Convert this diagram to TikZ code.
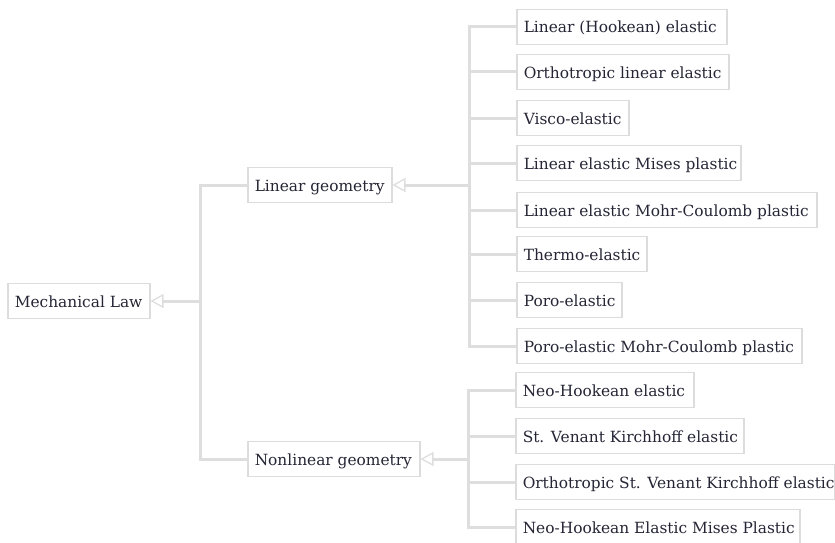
\documentclass[tikz,border=0pt]{standalone}
\usepackage{fontspec}
\setmainfont{DejaVu Serif}
\usetikzlibrary{arrows.meta}
\definecolor{linec}{HTML}{DEDEDE}
\definecolor{boxc}{HTML}{DCDCDC}
\definecolor{txt}{HTML}{252535}
\tikzset{
  box/.style={draw=boxc, line width=1.5pt, anchor=west, minimum height=35pt,
    inner xsep=7pt, inner ysep=0pt, text height=14pt, text depth=2pt,
    text=txt, font=\fontsize{15.4}{18}\selectfont},
  conn/.style={draw=linec, line width=3pt},
  opentip/.style={{Triangle[open,length=13pt,width=14pt,line width=1.3pt]}-},
}
\newcommand{\tb}[2]{\hbox to #1pt{#2\hss}}
\begin{document}
\begin{tikzpicture}[x=1pt,y=-1pt]
\useasboundingbox (0,0) rectangle (835,543);
% nodes
\node[box] (ml) at (7,301) {\tb{128}{Mechanical Law}};
\node[box] (lg) at (247,185) {\tb{130}{Linear geometry}};
\node[box] (ng) at (247,459) {\tb{158}{Nonlinear geometry}};
\node[box] (l1) at (516,27) {\tb{196}{Linear (Hookean) elastic}};
\node[box] (l2) at (516,72) {\tb{198}{Orthotropic linear elastic}};
\node[box] (l3) at (516,118) {\tb{98}{Visco-elastic}};
\node[box] (l4) at (516,163) {\tb{210}{Linear elastic Mises plastic}};
\node[box] (l5) at (516,210) {\tb{286}{Linear elastic Mohr-Coulomb plastic}};
\node[box] (l6) at (516,254) {\tb{116}{Thermo-elastic}};
\node[box] (l7) at (516,300) {\tb{91}{Poro-elastic}};
\node[box] (l8) at (516,346) {\tb{271}{Poro-elastic Mohr-Coulomb plastic}};
\node[box] (n1) at (515,390) {\tb{164}{Neo-Hookean elastic}};
\node[box] (n2) at (515,436) {\tb{214}{St. Venant Kirchhoff elastic}};
\node[box] (n3) at (515,482) {\tb{305}{Orthotropic St. Venant Kirchhoff elastic}};
\node[box] (n4) at (515,527) {\tb{270}{Neo-Hookean Elastic Mises Plastic}};
% junction coordinates
\coordinate (t0) at (200,301);
\coordinate (t1) at (469,185);
\coordinate (t2) at (468,459);
% root
\draw[conn,opentip] (ml.east) -- (t0);
\draw[conn] (lg.west) -- (lg.west -| t0) -- (ng.west -| t0) -- (ng.west);
% linear geometry
\draw[conn,opentip] (lg.east) -- (t1);
\draw[conn] (l1.west) -- (l1.west -| t1) -- (l8.west -| t1) -- (l8.west);
\foreach \n in {l2,l3,l4,l5,l6,l7}{\draw[conn] (\n.west) -- (\n.west -| t1);}
% nonlinear geometry
\draw[conn,opentip] (ng.east) -- (t2);
\draw[conn] (n1.west) -- (n1.west -| t2) -- (n4.west -| t2) -- (n4.west);
\foreach \n in {n2,n3}{\draw[conn] (\n.west) -- (\n.west -| t2);}
\end{tikzpicture}
\end{document}
